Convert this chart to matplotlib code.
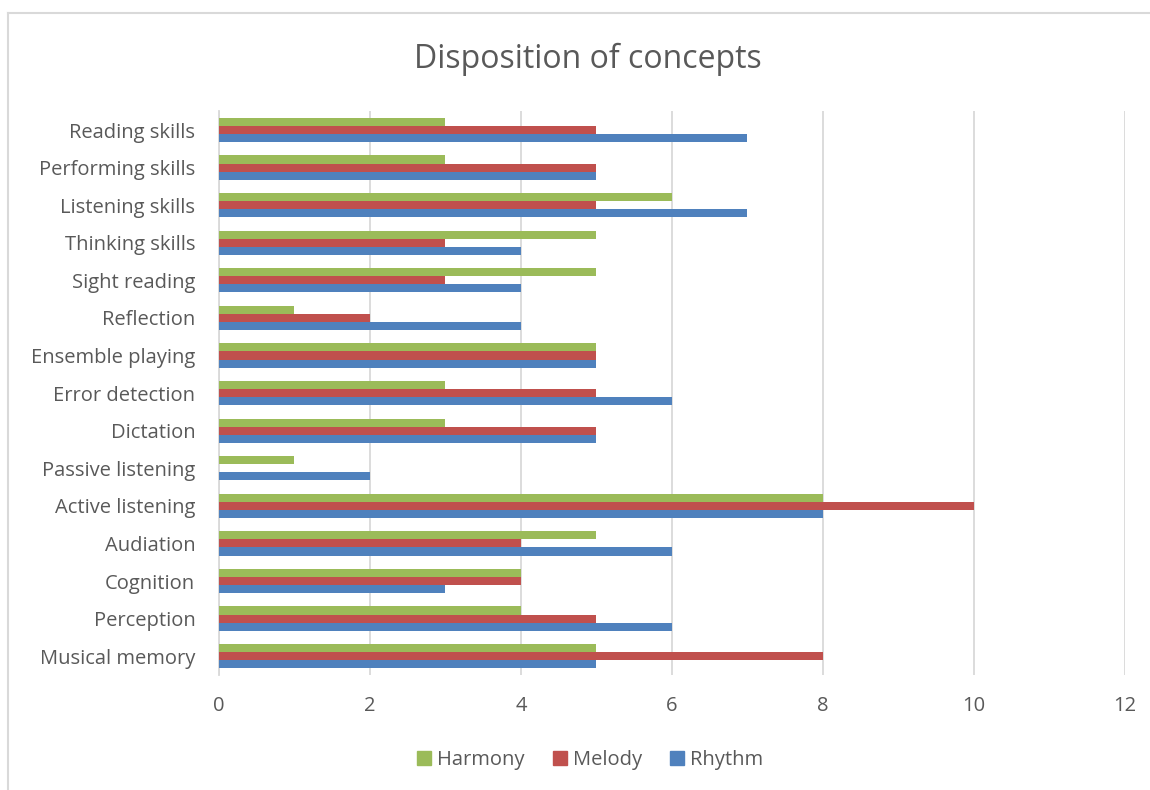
import matplotlib.pyplot as plt
import numpy as np
from matplotlib.lines import Line2D
from matplotlib.patches import Patch

plt.rcParams["font.family"] = ["Open Sans", "DejaVu Sans"]

# categories listed bottom to top, as drawn on the y axis
categories = [
    "Musical memory", "Perception", "Cognition", "Audiation",
    "Active listening", "Passive listening", "Dictation", "Error detection",
    "Ensemble playing", "Reflection", "Sight reading", "Thinking skills",
    "Listening skills", "Performing skills", "Reading skills",
]
rhythm = [5, 6, 3, 6, 8, 2, 5, 6, 5, 4, 4, 4, 7, 5, 7]
melody = [8, 5, 4, 4, 10, 0, 5, 5, 5, 2, 3, 3, 5, 5, 5]
harmony = [5, 4, 4, 5, 8, 1, 3, 3, 5, 1, 5, 5, 6, 3, 3]
x_ticks = [0, 2, 4, 6, 8, 10, 12]

text_color = "#595959"
grid_color = "#D9D9D9"
colors = {"Rhythm": "#4F81BD", "Melody": "#C0504D", "Harmony": "#9BBB59"}

fig = plt.figure(figsize=(11.5, 7.9), dpi=100)
ax = fig.add_axes([0.1904, 0.1456, 0.7878, 0.7136])

y = np.arange(len(categories))
h = 0.215
ax.barh(y - h, rhythm, height=h, color=colors["Rhythm"], zorder=3)
ax.barh(y, melody, height=h, color=colors["Melody"], zorder=3)
ax.barh(y + h, harmony, height=h, color=colors["Harmony"], zorder=3)

ax.set_xlim(0, 12)
ax.set_ylim(-0.5, len(categories) - 0.5)
ax.set_xticks(x_ticks)
ax.set_yticks(y)
ax.set_yticklabels(categories)
ax.tick_params(axis="both", length=0, labelsize=14.5, colors=text_color)
ax.tick_params(axis="x", pad=15)
ax.tick_params(axis="y", pad=17)
ax.grid(axis="x", color=grid_color, linewidth=1.3, zorder=0)
for side in ["top", "right", "bottom"]:
    ax.spines[side].set_visible(False)
ax.spines["left"].set_color(grid_color)
ax.spines["left"].set_linewidth(1.3)

fig.text(0.511, 0.925, "Disposition of concepts", ha="center", va="center",
         fontsize=23, color=text_color)

handles = [Patch(color=colors[k]) for k in ["Harmony", "Melody", "Rhythm"]]
fig.legend(handles, ["Harmony", "Melody", "Rhythm"], loc="center",
           bbox_to_anchor=(0.513, 0.038), ncol=3, frameon=False,
           fontsize=14.5, labelcolor=text_color, handlelength=0.7,
           handleheight=0.7, handletextpad=0.3, columnspacing=1.4)

# outer chart frame
fig.add_artist(Line2D([8 / 1150, 8 / 1150], [0, 1 - 13 / 790],
                      transform=fig.transFigure, color="#D9D9D9", lw=1.5))
fig.add_artist(Line2D([8 / 1150, 1], [1 - 13 / 790, 1 - 13 / 790],
                      transform=fig.transFigure, color="#D9D9D9", lw=1.5))

fig.savefig("out.png", dpi=100)
